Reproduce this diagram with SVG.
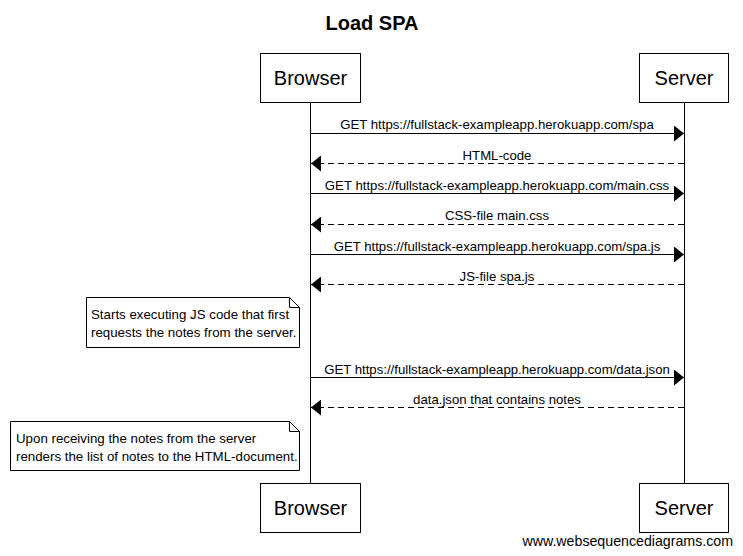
<svg xmlns="http://www.w3.org/2000/svg" width="743" height="556" viewBox="0 0 743 556">
<style>
text{font-family:"Liberation Sans",Arial,sans-serif;fill:#000}
.title{font-size:20px;font-weight:bold}
.actor{font-size:20px}
.msg{font-size:13.2px}
.note{font-size:13.3px}
.box{fill:#fff;stroke:#000;stroke-width:1}
.life{stroke:#000;stroke-width:1}
.sol{stroke:#000;stroke-width:1;fill:none}
.dash{stroke:#000;stroke-width:1;fill:none;stroke-dasharray:6,4}
</style>
<defs>
<marker id="ah" markerWidth="11" markerHeight="16" refX="10" refY="8" orient="auto" markerUnits="userSpaceOnUse">
<path d="M0,0 L10,8 L0,16 Z" fill="#000"/>
</marker>
</defs>
<rect width="743" height="556" fill="#fff"/>
<text class="title" x="372" y="30" text-anchor="middle">Load SPA</text>
<g id="lifelines">
<line class="life" x1="310.5" y1="102" x2="310.5" y2="483"/>
<line class="life" x1="684.5" y1="102" x2="684.5" y2="483"/>
</g>
<g id="browser-top"><rect class="box" x="260.5" y="53.5" width="100" height="49"/><text class="actor" x="310.5" y="85" text-anchor="middle">Browser</text></g>
<g id="server-top"><rect class="box" x="639.5" y="53.5" width="89" height="49"/><text class="actor" x="684" y="85" text-anchor="middle">Server</text></g>
<g id="browser-bottom"><rect class="box" x="260.5" y="483.5" width="100" height="49"/><text class="actor" x="310.5" y="515" text-anchor="middle">Browser</text></g>
<g id="server-bottom"><rect class="box" x="639.5" y="483.5" width="89" height="49"/><text class="actor" x="684" y="515" text-anchor="middle">Server</text></g>
<g id="connectors">
<line class="sol" x1="310.5" y1="133.5" x2="684" y2="133.5" marker-end="url(#ah)"/>
<text class="msg" x="497" y="129" text-anchor="middle">GET https://fullstack-exampleapp.herokuapp.com/spa</text>
<line class="dash" x1="684" y1="163.5" x2="311" y2="163.5" marker-end="url(#ah)"/>
<text class="msg" x="497" y="160" text-anchor="middle">HTML-code</text>
<line class="sol" x1="310.5" y1="193.5" x2="684" y2="193.5" marker-end="url(#ah)"/>
<text class="msg" x="497" y="190" text-anchor="middle">GET https://fullstack-exampleapp.herokuapp.com/main.css</text>
<line class="dash" x1="684" y1="224.5" x2="311" y2="224.5" marker-end="url(#ah)"/>
<text class="msg" x="497" y="220" text-anchor="middle">CSS-file main.css</text>
<line class="sol" x1="310.5" y1="254.5" x2="684" y2="254.5" marker-end="url(#ah)"/>
<text class="msg" x="497" y="251" text-anchor="middle">GET https://fullstack-exampleapp.herokuapp.com/spa.js</text>
<line class="dash" x1="684" y1="284.5" x2="311" y2="284.5" marker-end="url(#ah)"/>
<text class="msg" x="497" y="281" text-anchor="middle">JS-file spa.js</text>
<line class="sol" x1="310.5" y1="377.5" x2="684" y2="377.5" marker-end="url(#ah)"/>
<text class="msg" x="497" y="374" text-anchor="middle">GET https://fullstack-exampleapp.herokuapp.com/data.json</text>
<line class="dash" x1="684" y1="407.5" x2="311" y2="407.5" marker-end="url(#ah)"/>
<text class="msg" x="497" y="404" text-anchor="middle">data.json that contains notes</text>
</g>
<g id="note1">
<path class="box" d="M86.5,297.5 H289.5 L299.5,307.5 V347.5 H86.5 Z"/>
<path class="sol" d="M289.5,297.5 V307.5 H299.5"/>
<text class="note" x="91" y="319">Starts executing JS code that first</text>
<text class="note" x="91" y="337">requests the notes from the server.</text>
</g>
<g id="note2">
<path class="box" d="M10.5,421.5 H289.5 L299.5,431.5 V470.5 H10.5 Z"/>
<path class="sol" d="M289.5,421.5 V431.5 H299.5"/>
<text class="note" x="16" y="443">Upon receiving the notes from the server</text>
<text class="note" x="16" y="461">renders the list of notes to the HTML-document.</text>
</g>
<text x="733" y="546" text-anchor="end" font-size="14.2px">www.websequencediagrams.com</text>
</svg>
